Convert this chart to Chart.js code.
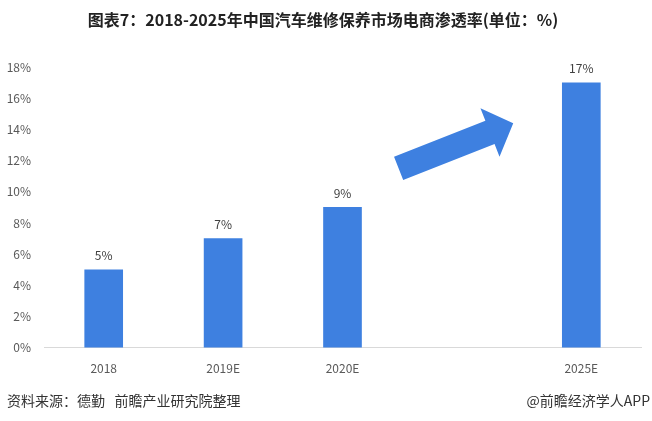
<!DOCTYPE html>
<html>
<head>
<meta charset="utf-8">
<script src="https://cdn.jsdelivr.net/npm/chart.js@4/dist/chart.umd.min.js"></script>
<style>
  html, body { margin: 0; padding: 0; background: #fff; }
  #wrap { width: 652px; height: 421px; position: relative; }
</style>
</head>
<body>
<div id="wrap"><canvas id="penetrationChart"></canvas></div>
<script>
const years = ['2018', '2019E', '2020E', '', '2025E'];
const rates = [5, 7, 9, null, 17];
const yTicks = [0, 2, 4, 6, 8, 10, 12, 14, 16, 18];

const BAR_BLUE = '#3e80e0';
const FONT = '"Noto Sans CJK SC", "Noto Sans", sans-serif';

// value labels sitting on top of each bar
const barLabels = {
    id: 'barLabels',
    afterDatasetsDraw(chart) {
        const ctx = chart.ctx;
        const meta = chart.getDatasetMeta(0);
        ctx.save();
        ctx.font = '12px ' + FONT;
        ctx.fillStyle = '#404040';
        ctx.textAlign = 'center';
        ctx.textBaseline = 'bottom';
        meta.data.forEach((bar, i) => {
            if (rates[i] == null) return;
            ctx.fillText(rates[i] + '%', bar.x, bar.y - 8);
        });
        ctx.restore();
    }
};

// big trend arrow between 2020E and 2025E, placed in axis units
const trendArrow = {
    id: 'trendArrow',
    afterDatasetsDraw(chart) {
        const xs = chart.scales.x, ys = chart.scales.y;
        const tx = xs.getPixelForValue(2.47), ty = ys.getPixelForValue(11.5);
        const hx = xs.getPixelForValue(3.43), hy = ys.getPixelForValue(14.4);
        const dx = hx - tx, dy = hy - ty;
        const len = Math.hypot(dx, dy);
        const ux = dx / len, uy = dy / len;
        const px = -uy, py = ux;
        const shaft = 12.5, head = 26, headLen = 25;
        const bx = hx - ux * headLen, by = hy - uy * headLen;
        const ctx = chart.ctx;
        ctx.save();
        ctx.fillStyle = BAR_BLUE;
        ctx.beginPath();
        ctx.moveTo(tx + px * shaft, ty + py * shaft);
        ctx.lineTo(bx + px * shaft, by + py * shaft);
        ctx.lineTo(bx + px * head, by + py * head);
        ctx.lineTo(hx, hy);
        ctx.lineTo(bx - px * head, by - py * head);
        ctx.lineTo(bx - px * shaft, by - py * shaft);
        ctx.lineTo(tx - px * shaft, ty - py * shaft);
        ctx.closePath();
        ctx.fill();
        ctx.restore();
    }
};

// source line and credit at the bottom
const footer = {
    id: 'footer',
    afterDraw(chart) {
        const ctx = chart.ctx;
        ctx.save();
        ctx.font = '14px ' + FONT;
        ctx.fillStyle = '#333';
        ctx.textBaseline = 'middle';
        ctx.textAlign = 'left';
        ctx.fillText('资料来源：德勤   前瞻产业研究院整理', 7, 401);
        ctx.textAlign = 'right';
        ctx.fillText('@前瞻经济学人APP', 650, 401);
        ctx.restore();
    }
};

new Chart(document.getElementById('penetrationChart'), {
    type: 'bar',
    data: {
        labels: years,
        datasets: [{
            data: rates,
            backgroundColor: BAR_BLUE,
            barThickness: 38
        }]
    },
    options: {
        responsive: true,
        maintainAspectRatio: false,
        animation: false,
        layout: { padding: { left: 5, right: 11, top: 0, bottom: 31 } },
        plugins: {
            legend: { display: false },
            tooltip: { enabled: false },
            title: {
                display: true,
                text: '图表7：2018-2025年中国汽车维修保养市场电商渗透率(单位：%)',
                color: '#222',
                font: { family: FONT, size: 16, weight: 'bold' },
                padding: { top: 10, bottom: 38 }
            }
        },
        scales: {
            x: {
                grid: { display: false, drawTicks: false },
                border: { color: '#d9d9d9', width: 1 },
                ticks: { color: '#595959', font: { family: FONT, size: 12 }, padding: 14 }
            },
            y: {
                min: 0,
                max: 18,
                afterBuildTicks: axis => { axis.ticks = yTicks.map(v => ({ value: v })); },
                afterFit: axis => { axis.width = 39; },
                grid: { display: false, drawTicks: false },
                border: { display: false },
                ticks: {
                    color: '#595959',
                    font: { family: FONT, size: 12 },
                    padding: 13,
                    callback: v => v + '%'
                }
            }
        }
    },
    plugins: [barLabels, trendArrow, footer]
});
</script>
</body>
</html>
